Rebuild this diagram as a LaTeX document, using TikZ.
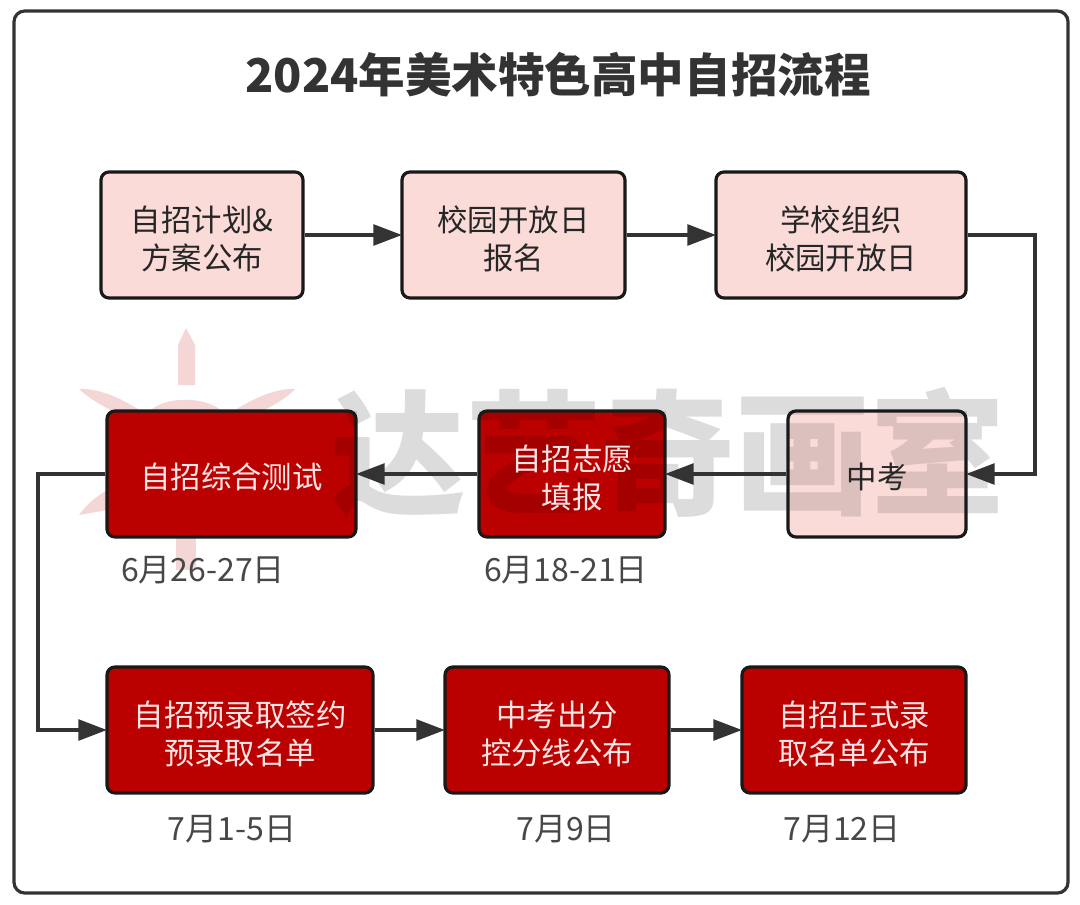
\documentclass[tikz,border=0pt]{standalone}
\usepackage{fontspec}
\setmainfont{Noto Sans CJK SC}
\usetikzlibrary{arrows.meta}
\definecolor{ink}{HTML}{333333}
\definecolor{pinkfill}{HTML}{FADBD8}
\definecolor{redfill}{HTML}{BB0000}
\definecolor{wmgray}{HTML}{DCDCDC}
\definecolor{wmsun}{HTML}{F4D6D6}
\newcommand{\wmword}{\fontsize{101pt}{101pt}\selectfont\bfseries 达艺奇画室}
\newcommand{\twolines}{\rule{0pt}{25pt}}
\tikzset{
  x=0.75pt,y=-0.75pt,
  flowbox/.style={draw=black!90,line width=2.4pt,rounded corners=6pt,align=center,inner sep=0pt,font=\fontsize{22.8pt}{28.6pt}\selectfont,execute at begin node={\rule{0pt}{24pt}}},
  pinkbox/.style={flowbox,text=black!85},
  redbox/.style={flowbox,text=white!90!red},
  flow/.style={draw=ink,line width=2.8pt,shorten >=-1.2pt,-{Triangle[length=21.5pt,width=15.5pt]}},
  datelabel/.style={text=ink!90,font=\fontsize{24pt}{28pt}\selectfont,inner sep=0pt},
  ray/.style={fill=wmsun,draw=none},
}
\begin{document}
\begin{tikzpicture}
\useasboundingbox (0,0) rectangle (1080,904);
\fill[white] (0,0) rectangle (1080,904);
% frame
\draw[ink,line width=2.4pt,rounded corners=8pt] (14,11) rectangle (1068,893);
% watermark sun
\fill[ray] (178,385) -- (178,345) -- (186,328) -- (195,345) -- (195,385) -- cycle;
\fill[ray] (176,570) -- (176,530) -- (196,530) -- (196,570) -- cycle;
\fill[ray] (79,389) .. controls (100,388) and (125,400) .. (142,412) -- (130,420) .. controls (110,410) and (90,400) .. (79,389) -- cycle;
\fill[ray] (295,389) .. controls (275,388) and (250,400) .. (232,412) -- (245,420) .. controls (265,410) and (285,400) .. (295,389) -- cycle;
\fill[ray] (79,515) .. controls (90,500) and (100,495) .. (107,490) -- (107,510) -- cycle;
\fill[ray] (150,411) .. controls (165,396) and (205,396) .. (222,411) -- cycle;
% watermark word
\node[text=wmgray,anchor=center,inner sep=0pt] (wmback) at (668,453) {\wmword};
% box fills
\fill[pinkfill,rounded corners=6pt] (101,172) rectangle (303,298);
\fill[pinkfill,rounded corners=6pt] (402,172) rectangle (625,298);
\fill[pinkfill,rounded corners=6pt] (716,172) rectangle (966,298);
\fill[pinkfill,rounded corners=6pt] (788,411) rectangle (966,537);
\fill[redfill,rounded corners=6pt] (479,411) rectangle (665,537);
\fill[redfill,rounded corners=6pt] (107,411) rectangle (356,537);
\fill[redfill,rounded corners=6pt] (107,667) rectangle (373,793);
\fill[redfill,rounded corners=6pt] (445,667) rectangle (669,793);
\fill[redfill,rounded corners=6pt] (742,667) rectangle (966,793);
% watermark seen through the boxes
\begin{scope}
\clip (788,411) rectangle (966,537) (479,411) rectangle (665,537) (107,411) rectangle (356,537);
\node[text=black,opacity=0.12,anchor=center,inner sep=0pt] (wmfront) at (668,453) {\wmword};
\end{scope}
% title
\node[text=ink,font=\fontsize{34.9pt}{40pt}\selectfont\bfseries,inner sep=0pt] (title) at (558,75) {2024年美术特色高中自招流程};
% boxes
\node[pinkbox,minimum width=151.5pt,minimum height=94.5pt] (a) at (202,235) {\twolines 自招计划\&\\方案公布};
\node[pinkbox,minimum width=167.25pt,minimum height=94.5pt] (b) at (513.5,235) {\twolines 校园开放日\\报名};
\node[pinkbox,minimum width=187.5pt,minimum height=94.5pt] (c) at (841,235) {\twolines 学校组织\\校园开放日};
\node[pinkbox,minimum width=133.5pt,minimum height=94.5pt] (d) at (877,474) {中考};
\node[redbox,minimum width=139.5pt,minimum height=94.5pt] (e) at (572,474) {\twolines 自招志愿\\填报};
\node[redbox,minimum width=186.75pt,minimum height=94.5pt] (f) at (231.5,474) {自招综合测试};
\node[redbox,minimum width=199.5pt,minimum height=94.5pt] (g) at (240,730) {\twolines 自招预录取签约\\预录取名单};
\node[redbox,minimum width=168pt,minimum height=94.5pt] (h) at (557,730) {\twolines 中考出分\\控分线公布};
\node[redbox,minimum width=168pt,minimum height=94.5pt] (i) at (854,730) {\twolines 自招正式录\\取名单公布};
% routing points
\coordinate (r1) at (1035,235);
\coordinate (r2) at (1035,474);
\coordinate (l1) at (38,474);
\coordinate (l2) at (38,730);
% connectors
\draw[flow] (a) -- (b);
\draw[flow] (b) -- (c);
\draw[flow] (c.east) -- (r1) -- (r2) -- (d.east);
\draw[flow] (d) -- (e);
\draw[flow] (e) -- (f);
\draw[flow] (f.west) -- (l1) -- (l2) -- (g.west);
\draw[flow] (g) -- (h);
\draw[flow] (h) -- (i);
% dates
\node[datelabel] (df) at (203,570) {6月26-27日};
\node[datelabel] (de) at (566,570) {6月18-21日};
\node[datelabel] (dg) at (232,829) {7月1-5日};
\node[datelabel] (dh) at (566,829) {7月9日};
\node[datelabel] (di) at (842,829) {7月12日};
\end{tikzpicture}
\end{document}
